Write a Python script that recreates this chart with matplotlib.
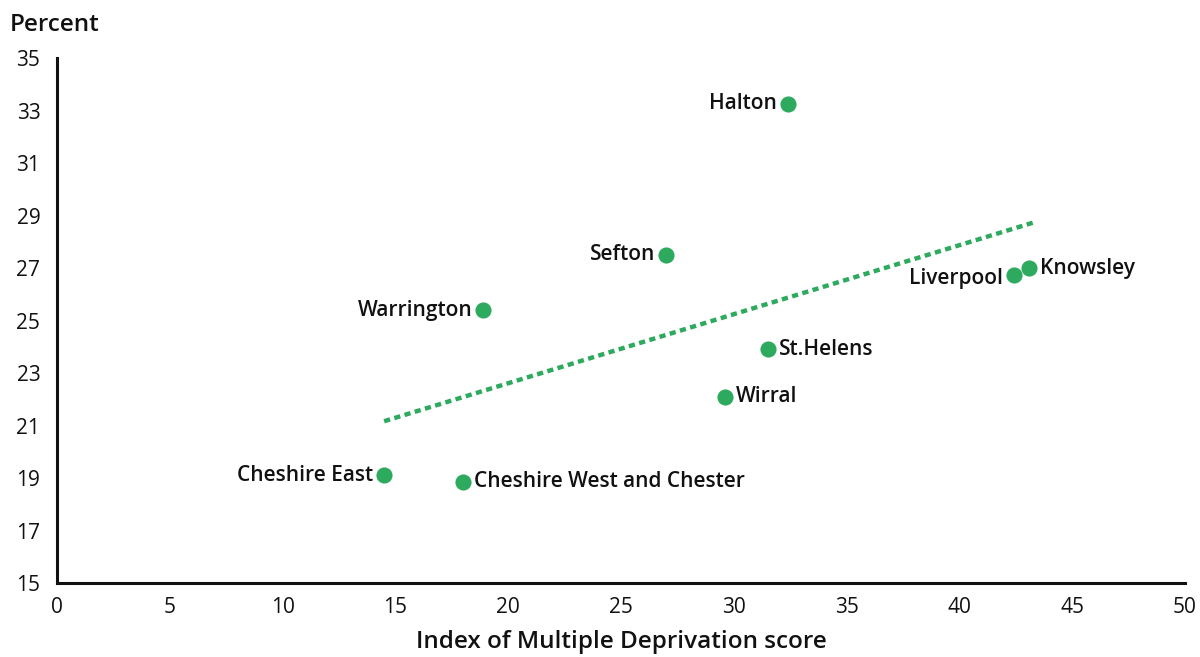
import numpy as np
import matplotlib
matplotlib.use("Agg")
import matplotlib.pyplot as plt

plt.rcParams['font.family'] = ['Open Sans', 'DejaVu Sans']

areas = ["Halton", "Sefton", "Warrington", "Liverpool", "Knowsley",
         "St.Helens", "Wirral", "Cheshire East", "Cheshire West and Chester"]
imd_score = [32.4, 27.0, 18.9, 42.4, 43.1, 31.5, 29.6, 14.5, 18.0]
percent = [33.25, 27.5, 25.4, 26.75, 27.0, 23.9, 22.1, 19.1, 18.85]
label_side = ["left", "left", "left", "left", "right",
              "right", "right", "left", "right"]

x_ticks = list(range(0, 51, 5))
y_ticks = list(range(15, 36, 2))

green = "#2EAA5F"
ink = "#111111"

fig = plt.figure(figsize=(12, 6.57), dpi=100)
ax = fig.add_axes([0.0475, 0.1126, 0.94, 0.7991])

# linear trend across the observed range
coef = np.polyfit(imd_score, percent, 1)
xs = np.array([min(imd_score), max(imd_score) + 0.2])
ax.plot(xs, np.polyval(coef, xs), color=green, lw=3.2,
        dashes=(1.4, 1.0), dash_capstyle='butt', zorder=2)

ax.scatter(imd_score, percent, s=135, color=green, zorder=3, linewidths=0)

for name, x, y, side in zip(areas, imd_score, percent, label_side):
    off = -8 if side == "left" else 8
    ha = "right" if side == "left" else "left"
    dy = -3 if name == "Liverpool" else 0
    ax.annotate(name, (x, y), xytext=(off, dy), textcoords="offset points",
                ha=ha, va="center", fontsize=15, fontweight="semibold",
                color=ink)

ax.set_xlim(0, 50)
ax.set_ylim(15, 35)
ax.set_xticks(x_ticks)
ax.set_yticks(y_ticks)
ax.tick_params(length=0, labelsize=15, colors=ink)
ax.tick_params(axis="x", pad=10)
ax.tick_params(axis="y", pad=12)

for s in ["top", "right"]:
    ax.spines[s].set_visible(False)
for s in ["left", "bottom"]:
    ax.spines[s].set_linewidth(2.2)
    ax.spines[s].set_color(ink)

ax.set_xlabel("Index of Multiple Deprivation score", fontsize=17.5,
              fontweight="semibold", labelpad=9, color=ink)
fig.text(0.008, 0.962, "Percent", fontsize=17.5, fontweight="semibold",
         ha="left", va="center", color=ink)

fig.savefig("out.png", dpi=100, facecolor="white")
